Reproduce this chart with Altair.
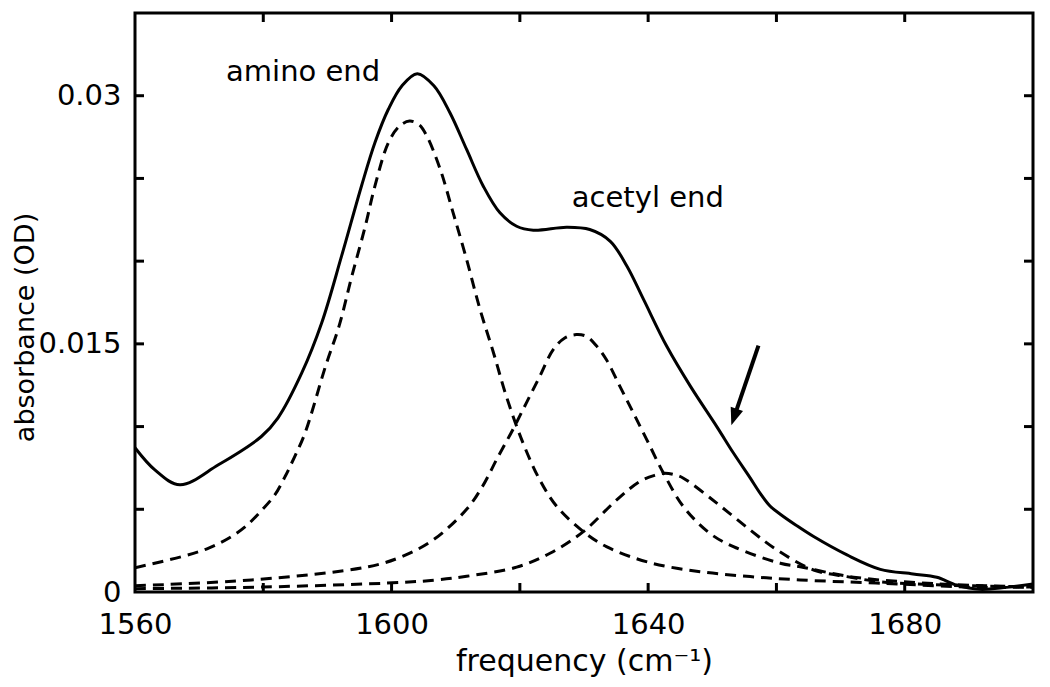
import altair as alt
import pandas as pd

FONT = "DejaVu Sans"

# ---- data ----
total_freq = [1560.0, 1563.1, 1567.0, 1573.0, 1579.7, 1582.3, 1586.0, 1589.1, 1592.2, 1595.3,
              1597.4, 1599.5, 1601.6, 1604.0, 1606.6, 1609.1, 1611.7, 1614.3, 1616.9, 1619.5,
              1622.1, 1627.3, 1630.9, 1634.1, 1636.7, 1639.3, 1642.9, 1646.6, 1650.7, 1653.3,
              1655.9, 1657.5, 1659.0, 1660.6, 1663.0, 1665.8, 1671.0, 1676.2, 1681.3, 1685.0,
              1688.1, 1691.7, 1695.9, 1700.0]
total_abs = [0.00872, 0.00738, 0.00648, 0.00769, 0.00940, 0.01053, 0.01324, 0.01626, 0.02030, 0.02453,
             0.02716, 0.02918, 0.03059, 0.03133, 0.03060, 0.02897, 0.02675, 0.02453, 0.02292, 0.02211,
             0.02187, 0.02205, 0.02191, 0.02120, 0.01969, 0.01767, 0.01485, 0.01243, 0.01000, 0.00840,
             0.00690, 0.00595, 0.00520, 0.00470, 0.00405, 0.00335, 0.00224, 0.00137, 0.00109, 0.00089,
             0.00042, 0.00016, 0.00028, 0.00048]

amino_freq = [1560.0, 1567.3, 1571.4, 1574.6, 1577.2, 1579.8, 1581.8, 1583.4, 1584.9, 1586.5,
              1589.7, 1591.8, 1593.8, 1595.9, 1597.4, 1599.5, 1601.2, 1602.8, 1604.3, 1605.5,
              1607.6, 1609.6, 1611.7, 1613.8, 1615.9, 1617.9, 1620.5, 1623.1, 1625.7, 1629.9,
              1633.5, 1640.3, 1648.1, 1655.9, 1663.7, 1676.2, 1691.7, 1700.0]
amino_abs = [0.00147, 0.00214, 0.00264, 0.00325, 0.00395, 0.00496, 0.00587, 0.00698, 0.00819, 0.00960,
             0.01364, 0.01606, 0.01908, 0.02211, 0.02453, 0.02716, 0.02815, 0.02847, 0.02825, 0.02756,
             0.02554, 0.02292, 0.02010, 0.01707, 0.01445, 0.01182, 0.00900, 0.00678, 0.00520, 0.00365,
             0.00274, 0.00177, 0.00123, 0.00093, 0.00073, 0.00053, 0.00028, 0.00030]

acetyl_freq = [1560.0, 1578.2, 1596.4, 1601.6, 1606.5, 1611.7, 1614.2, 1616.5, 1618.9, 1621.0,
               1623.1, 1625.2, 1627.0, 1628.8, 1630.4, 1631.9, 1633.5, 1635.6, 1637.7, 1639.8,
               1642.4, 1645.5, 1649.6, 1653.3, 1660.6, 1663.7, 1672.0, 1685.0, 1700.0]
acetyl_abs = [0.00038, 0.00073, 0.00153, 0.00214, 0.00315, 0.00500, 0.00640, 0.00810, 0.00981, 0.01142,
              0.01303, 0.01465, 0.01535, 0.01556, 0.01545, 0.01490, 0.01404, 0.01243, 0.01082, 0.00920,
              0.00718, 0.00516, 0.00355, 0.00274, 0.00174, 0.00153, 0.00090, 0.00050, 0.00030]

third_freq = [1560.0, 1580.0, 1601.6, 1606.8, 1611.7, 1619.5, 1624.7, 1629.9, 1635.1, 1638.7,
              1641.0, 1642.6, 1644.2, 1645.5, 1650.7, 1655.9, 1660.1, 1665.8, 1671.0, 1676.2,
              1686.0, 1700.0]
third_abs = [0.00020, 0.00030, 0.00058, 0.00072, 0.00095, 0.00150, 0.00234, 0.00365, 0.00557, 0.00668,
             0.00705, 0.00718, 0.00708, 0.00688, 0.00537, 0.00375, 0.00254, 0.00133, 0.00093, 0.00062,
             0.00042, 0.00030]

x_label_values = [1560, 1600, 1640, 1680]
y_label_values = [0, 0.015, 0.03]
x_tick_values = [1580, 1600, 1620, 1640, 1660, 1680]
y_tick_values = [0.005, 0.01, 0.015, 0.02, 0.025, 0.03]

note_text = ["amino end", "acetyl end"]
note_freq = [1574.2, 1628.1]
note_abs = [0.03089, 0.02329]

arrow_tail_freq = [1657.2]
arrow_tail_abs = [0.01489]
arrow_head_freq = [1653.4]
arrow_head_abs = [0.01057]

# ---- layout ----
W, H = 898, 579
TICK = 9

xs = alt.Scale(domain=[1560, 1700], nice=False, zero=False)
ys = alt.Scale(domain=[0, 0.035], nice=False, zero=False)

x_axis = alt.Axis(values=x_label_values, format="d", ticks=False, domain=False, grid=False,
                  labelFont=FONT, labelFontSize=29, labelColor="black", labelPadding=18,
                  labelFlush=False, title="frequency (cm⁻¹)", titleFont=FONT, titleFontSize=30,
                  titleFontWeight="normal", titleColor="black", titleBaseline="alphabetic",
                  titleAlign="center", titleX=W / 2, titleY=78)
y_axis = alt.Axis(values=y_label_values, labelExpr="format(datum.value, '.3~f')",
                  ticks=False, domain=False, grid=False,
                  labelFont=FONT, labelFontSize=29, labelColor="black", labelPadding=14,
                  labelFlush=False, title="absorbance (OD)", titleFont=FONT, titleFontSize=27,
                  titleFontWeight="normal", titleColor="black", titleAngle=270,
                  titleBaseline="alphabetic", titleAlign="center", titleX=-102, titleY=314)

X = alt.X("freq:Q", scale=xs, axis=x_axis)
Y = alt.Y("absorbance:Q", scale=ys, axis=y_axis)

df_total = pd.DataFrame({"freq": total_freq, "absorbance": total_abs})
bands = []
for name, fx, fy in [("amino", amino_freq, amino_abs), ("acetyl", acetyl_freq, acetyl_abs),
                     ("third", third_freq, third_abs)]:
    bands.append(pd.DataFrame({"freq": fx, "absorbance": fy, "band": name}))
df_bands = pd.concat(bands, ignore_index=True)

solid = alt.Chart(df_total).mark_line(color="black", strokeWidth=3, interpolate="catmull-rom",
                                      clip=True).encode(x=X, y=Y)

dashed = alt.Chart(df_bands).mark_line(color="black", strokeWidth=3, strokeDash=[11, 7],
                                       interpolate="catmull-rom", clip=True).encode(
    x=X, y=Y, detail="band:N")

xt = alt.Chart(pd.DataFrame({"freq": x_tick_values}))
yt = alt.Chart(pd.DataFrame({"absorbance": y_tick_values}))
bottom_ticks = xt.mark_rule(color="black", strokeWidth=3).encode(
    x=X, y=alt.value(H), y2=alt.value(H - TICK))
top_ticks = xt.mark_rule(color="black", strokeWidth=3).encode(
    x=X, y=alt.value(0), y2=alt.value(TICK))
left_ticks = yt.mark_rule(color="black", strokeWidth=3).encode(
    y=Y, x=alt.value(0), x2=alt.value(TICK))
right_ticks = yt.mark_rule(color="black", strokeWidth=3).encode(
    y=Y, x=alt.value(W), x2=alt.value(W - TICK))

notes = alt.Chart(pd.DataFrame({"freq": note_freq, "absorbance": note_abs, "t": note_text})).mark_text(
    font=FONT, fontSize=29, color="black", align="left", baseline="alphabetic").encode(
    x=X, y=Y, text="t:N")

arrow_df = pd.DataFrame({"freq": arrow_tail_freq, "absorbance": arrow_tail_abs,
                         "freq2": arrow_head_freq, "abs2": arrow_head_abs})
arrow_line = alt.Chart(arrow_df).mark_rule(color="black", strokeWidth=4).encode(
    x=X, y=Y, x2="freq2:Q", y2="abs2:Q")
arrow_head = alt.Chart(pd.DataFrame({"freq": arrow_head_freq, "absorbance": arrow_head_abs})).mark_point(
    shape="M0,-1L0.75,1L-0.75,1Z", size=300, filled=True, color="black", opacity=1,
    angle=198.6).encode(x=X, y=Y)

chart = alt.layer(solid, dashed, bottom_ticks, top_ticks, left_ticks, right_ticks,
                  notes, arrow_line, arrow_head).properties(
    width=W, height=H,
    autosize=alt.AutoSizeParams(type="none"),
    padding={"left": 127, "top": 5, "right": 9, "bottom": 87},
    background="white",
).configure_view(stroke="black", strokeWidth=3)

chart.save("out.html", embed_options={"renderer": "svg", "actions": False})
